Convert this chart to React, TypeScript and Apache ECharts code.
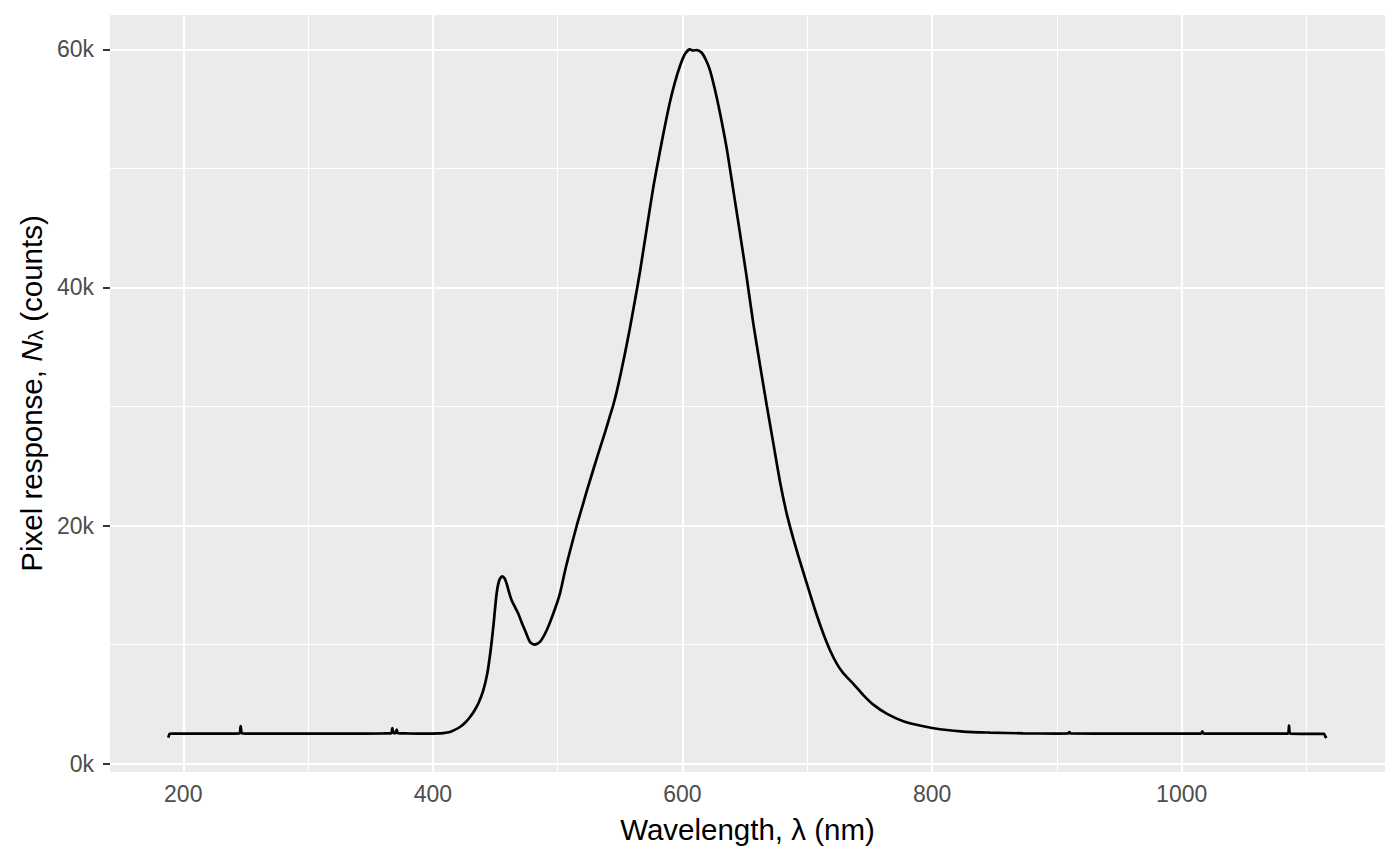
import React, { useEffect, useRef } from "react";
import * as echarts from "echarts";

const wavelengths = [
  188.0, 189.0, 190.0, 200, 220, 240, 245, 246, 247, 250, 270, 300, 330, 360,
  366.5, 367.5, 368.5, 370, 371, 372, 380, 395, 405, 408, 413.7, 417.5, 421.7,
  426, 429.8, 433, 436.4, 440.4, 443.6, 446.3, 448.4, 451.1, 453.2, 455.6,
  457.5, 459.1, 461, 463.1, 466, 468.4, 471, 473.8, 477.8, 481.2, 485.8, 491.2,
  496.5, 501.8, 506, 510, 515.3, 520, 524.5, 529, 533.9, 538, 541.9, 544.5,
  547.3, 550.5, 553.9, 557.9, 561.9, 565.9, 571.3, 576.6, 582, 586, 590, 594,
  598, 602, 606, 608.5, 611.4, 615.4, 618.8, 622.0, 626.1, 630.1, 635.4, 640.7,
  646.1, 651.4, 656.7, 662.1, 667.5, 672.8, 678.1, 683.5, 688.8, 694.1, 698.1,
  702.2, 707.5, 712.8, 718.2, 723.6, 728.8, 736.9, 744.9, 752.9, 763.6, 776.9,
  793.0, 806.3, 825.0, 846.4, 873.1, 900, 909, 910, 911, 950, 1000, 1015.5,
  1016.5, 1017.5, 1050, 1085, 1086, 1087, 1100, 1114, 1115, 1116,
];

const counts = [
  2180, 2480, 2520, 2520, 2510, 2520, 2530, 3160, 2540, 2520, 2510, 2520, 2520,
  2530, 2540, 2990, 2560, 2550, 2860, 2550, 2530, 2520, 2540, 2560, 2655, 2830,
  3075, 3450, 3916, 4400, 5042, 6159, 7563, 9520, 11478, 14285, 15403, 15739,
  15550, 15125, 14400, 13722, 13100, 12605, 11900, 11201, 10218, 10000, 10218,
  11201, 12605, 14285, 16243, 17900, 20000, 21700, 23300, 24850, 26500, 27850,
  29200, 30100, 31250, 32750, 34452, 36600, 38900, 41300, 44900, 48400, 51450,
  53600, 55600, 57250, 58600, 59600, 59990, 59900, 59939, 59712, 59099, 58258,
  56578, 54620, 51700, 48175, 44535, 40888, 37000, 33500, 30100, 26900, 23700,
  21000, 18900, 17000, 15650, 14250, 12500, 10924, 9520, 8402, 7600, 6700, 5750,
  4950, 4200, 3560, 3134, 2882, 2689, 2605, 2540, 2525, 2530, 2655, 2530, 2515,
  2510, 2520, 2714, 2520, 2510, 2510, 3193, 2510, 2500, 2490, 2300, 2150,
];

const xTickValues = [200, 400, 600, 800, 1000];
const xMinorValues = [300, 500, 700, 900, 1100];
const yTickValues = [0, 20000, 40000, 60000];
const yMinorValues = [10000, 30000, 50000];

const xTitle = "Wavelength, λ (nm)";
const yTitle = "Pixel response, {it|N}{sub|λ} (counts)";

export default function App() {
  const ref = useRef<HTMLDivElement>(null);

  useEffect(() => {
    if (!ref.current) return;
    const chart = echarts.init(ref.current, null, { renderer: "svg" });
    const font = "'Liberation Sans', Arial, Helvetica, sans-serif";

    const grid = (dim: string, v: number, w: number) => ({
      [dim]: v,
      lineStyle: { width: w, color: "#FFFFFF", type: "solid" },
    });

    chart.setOption({
      animation: false,
      backgroundColor: "#FFFFFF",
      grid: {
        left: 110,
        right: 15,
        top: 15,
        bottom: 94,
        show: true,
        backgroundColor: "#EBEBEB",
        borderWidth: 0,
        containLabel: false,
        outerBoundsMode: "none",
      },
      xAxis: {
        type: "value",
        min: 141.3,
        max: 1162.9,
        axisLine: { show: false },
        axisTick: {
          show: true,
          length: 7,
          customValues: xTickValues,
          lineStyle: { color: "#333333", width: 2 },
        },
        axisLabel: {
          customValues: xTickValues,
          margin: 10,
          color: "#4D4D4D",
          fontSize: 23,
          fontFamily: font,
          formatter: (v: number) => String(v),
        },
        splitLine: { show: false },
        minorSplitLine: { show: false },
        name: xTitle,
        nameLocation: "middle",
        nameGap: 42,
        nameMoveOverlap: false,
        nameTextStyle: { color: "#000000", fontSize: 29.5, fontFamily: font },
      },
      yAxis: {
        type: "value",
        min: -706,
        max: 62882,
        axisLine: { show: false },
        axisTick: {
          show: true,
          length: 7,
          customValues: yTickValues,
          lineStyle: { color: "#333333", width: 2 },
        },
        axisLabel: {
          customValues: yTickValues,
          margin: 16,
          color: "#4D4D4D",
          fontSize: 23,
          fontFamily: font,
          formatter: (v: number) => `${Math.round(v / 1000)}k`,
        },
        splitLine: { show: false },
        minorSplitLine: { show: false },
        name: yTitle,
        nameLocation: "middle",
        nameRotate: 90,
        nameGap: 64,
        nameMoveOverlap: false,
        nameTextStyle: {
          color: "#000000",
          fontSize: 29.5,
          fontFamily: font,
          rich: {
            it: { fontStyle: "italic", fontSize: 29.5, fontFamily: font, color: "#000000" },
            sub: {
              fontSize: 21,
              fontFamily: font,
              color: "#000000",
              verticalAlign: "bottom",
              lineHeight: 20,
            },
          },
        },
      },
      series: [
        {
          type: "line",
          data: wavelengths.map((w, i) => [w, counts[i]]),
          symbol: "none",
          showSymbol: false,
          smooth: 0.25,
          silent: true,
          z: 3,
          lineStyle: { color: "#000000", width: 2.7 },
          markLine: {
            silent: true,
            z: 1,
            animation: false,
            symbol: ["none", "none"],
            label: { show: false },
            emphasis: { disabled: true },
            data: [
              ...xMinorValues.map((v) => grid("xAxis", v, 1.1)),
              ...yMinorValues.map((v) => grid("yAxis", v, 1.1)),
              ...xTickValues.map((v) => grid("xAxis", v, 2.2)),
              ...yTickValues.map((v) => grid("yAxis", v, 2.2)),
            ],
          },
        },
      ],
    });

    return () => chart.dispose();
  }, []);

  return (
    <div
      ref={ref}
      style={{ position: "absolute", left: 0, top: 0, width: 1400, height: 866 }}
    />
  );
}
